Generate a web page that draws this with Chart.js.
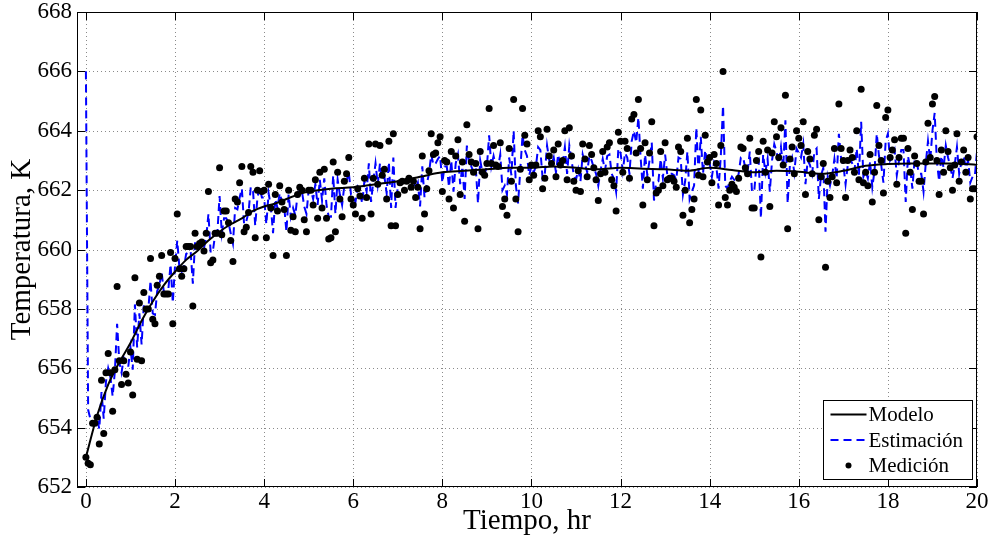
<!DOCTYPE html>
<html>
<head>
<meta charset="utf-8">
<script src="https://cdn.jsdelivr.net/npm/chart.js@4.4.1/dist/chart.umd.min.js"></script>
<style>
  body { margin: 0; background: #fff; }
  #wrap { width: 990px; height: 539px; }
</style>
</head>
<body>
<div id="wrap"><canvas id="chart"></canvas></div>
<script>
// muestreo cada 0.05 hr, de 0 a 20 hr
const dt = 0.05;

const medicion = [
  653.0, 652.8, 652.75, 654.15, 654.15, 654.35, 653.45, 655.6, 653.8, 655.85, 656.5, 655.85, 654.55, 655.95, 658.75, 656.25, 655.45, 656.25, 655.8, 655.5,
  656.55, 655.1, 659.05, 656.3, 658.2, 656.25, 658.55, 658.0, 658.0, 659.7, 657.65, 657.5, 658.8, 659.1, 659.8, 658.5, 658.5, 658.5, 659.9, 657.5,
  659.7, 661.2, 659.35, 659.1, 659.35, 660.1, 660.1, 660.1, 658.1, 660.55, 660.1, 660.2, 660.25, 659.95, 660.55, 661.95, 659.55, 659.65, 660.55, 660.55,
  662.75, 660.5, 661.3, 661.3, 660.9, 660.3, 659.6, 661.7, 661.6, 662.25, 662.8, 660.6, 660.75, 661.25, 662.8, 662.6, 660.4, 662.0, 662.65, 661.95,
  662.0, 660.4, 662.2, 661.4, 659.8, 661.85, 661.3, 662.15, 661.6, 661.35, 659.8, 662.0, 660.65, 661.1, 660.6, 661.85, 662.1, 662.0, 661.0, 660.6,
  662.0, 662.0, 661.5, 662.35, 661.05, 662.6, 661.4, 662.7, 661.05, 660.35, 660.4, 662.95, 660.6, 662.6, 661.7, 661.1, 662.3, 662.55, 663.1, 661.7,
  661.5, 661.2, 662.05, 661.8, 661.05, 662.4, 661.75, 663.55, 661.2, 662.4, 663.55, 662.2, 663.5, 662.5, 662.7, 661.7, 663.65, 660.8, 663.9, 660.8,
  661.85, 662.25, 662.3, 662.0, 662.3, 662.4, 662.1, 662.3, 661.75, 662.1, 660.7, 663.15, 661.2, 662.05, 662.65, 663.9, 663.2, 663.25, 663.6, 663.8,
  661.95, 663.0, 662.95, 661.7, 663.3, 661.4, 663.15, 663.7, 661.85, 662.95, 660.95, 664.2, 663.2, 662.95, 662.6, 662.9, 660.7, 663.3, 662.6, 662.5,
  662.9, 664.75, 662.9, 663.5, 662.85, 662.8, 663.6, 661.45, 661.7, 661.15, 663.4, 662.3, 665.05, 661.7, 660.6, 662.7, 664.75, 663.85, 663.55, 662.35,
  662.85, 662.5, 662.85, 664.0, 663.8, 662.05, 662.4, 664.05, 663.15, 662.9, 663.35, 662.45, 663.55, 662.85, 663.0, 664.0, 662.35, 664.1, 663.15, 662.3,
  662.0, 662.65, 661.95, 663.55, 663.05, 662.45, 663.5, 663.2, 662.75, 662.35, 661.65, 662.55, 663.3, 662.6, 663.45, 663.6, 662.35, 662.15, 661.3, 663.95,
  663.65, 662.6, 663.65, 663.4, 662.4, 664.4, 664.55, 663.25, 665.05, 663.4, 661.5, 663.6, 662.35, 663.25, 664.3, 660.8, 661.9, 662.0, 663.3, 662.15,
  663.6, 662.35, 662.4, 662.4, 662.3, 662.1, 663.45, 663.3, 661.15, 662.0, 663.75, 660.9, 661.35, 661.7, 665.05, 662.5, 664.7, 662.45, 663.85, 662.95,
  663.1, 662.25, 663.2, 662.9, 661.5, 663.5, 666.0, 661.75, 661.5, 662.0, 662.2, 662.1, 661.95, 662.4, 663.45, 663.4, 662.75, 662.55, 663.75, 661.4,
  661.4, 663.0, 663.3, 659.75, 663.65, 662.6, 663.35, 661.45, 663.25, 664.3, 663.8, 663.1, 664.1, 662.85, 665.2, 660.7, 663.05, 663.45, 662.55, 664.0,
  663.75, 663.5, 664.3, 661.85, 663.3, 663.05, 662.55, 663.85, 664.05, 661.0, 662.45, 662.9, 659.4, 662.3, 661.75, 662.45, 663.4, 662.25, 664.9, 663.4,
  663.0, 661.75, 663.0, 663.35, 663.1, 662.6, 664.0, 662.35, 665.4, 662.25, 662.6, 662.15, 663.2, 661.6, 662.6, 664.85, 663.5, 663.0, 661.9, 664.45,
  664.7, 663.1, 663.35, 663.7, 662.2, 663.1, 663.75, 663.75, 660.55, 663.4, 662.6, 661.35, 663.15, 662.9, 662.3, 662.3, 661.2, 662.95, 664.25, 663.1,
  664.9, 665.15, 663.0, 661.85, 663.35, 662.6, 664.0, 663.3, 662.75, 662.0, 662.85, 663.9, 662.3, 662.95, 663.35, 662.6, 663.1, 661.7, 662.05, 662.05,
  663.8
];

const estimacion = [
  666.0, 654.6, 654.3, 654.2, 654.15, 654.35, 653.95, 655.2, 654.3, 655.55, 656.0, 655.7, 655.05, 655.9, 657.5, 656.2, 655.85, 656.35, 656.15, 656.05,
  656.7, 655.95, 658.15, 656.7, 657.85, 656.8, 658.15, 657.9, 657.95, 658.95, 657.85, 657.8, 658.6, 658.8, 659.25, 658.55, 658.6, 658.65, 659.5, 658.2,
  659.45, 660.3, 659.35, 659.25, 659.4, 659.85, 659.9, 659.95, 658.85, 660.25, 660.05, 660.15, 660.2, 660.05, 660.4, 661.2, 659.9, 659.95, 660.5, 660.55,
  661.8, 660.55, 661.05, 661.05, 660.9, 660.55, 660.2, 661.4, 661.35, 661.75, 662.05, 660.85, 660.95, 661.25, 662.1, 662.0, 660.8, 661.75, 662.1, 661.75,
  661.75, 660.85, 661.9, 661.45, 660.55, 661.7, 661.4, 661.9, 661.6, 661.45, 660.6, 661.85, 661.1, 661.4, 661.15, 661.85, 662.0, 661.95, 661.45, 661.2,
  662.0, 662.0, 661.7, 662.2, 661.5, 662.35, 661.65, 662.4, 661.5, 661.1, 661.1, 662.5, 661.2, 662.35, 661.85, 661.5, 662.15, 662.3, 662.6, 661.85,
  661.8, 661.6, 662.1, 661.95, 661.55, 662.3, 661.95, 662.9, 661.6, 662.3, 662.9, 662.2, 662.9, 662.35, 662.45, 661.9, 662.95, 661.4, 663.1, 661.4,
  662.1, 662.3, 662.35, 662.2, 662.35, 662.4, 662.25, 662.35, 662.05, 662.25, 661.45, 662.8, 661.75, 662.2, 662.55, 663.2, 662.85, 662.9, 663.05, 663.15,
  662.25, 662.8, 662.8, 662.1, 663.0, 661.95, 662.9, 663.2, 662.2, 662.8, 661.7, 663.5, 662.95, 662.8, 662.6, 662.75, 661.55, 663.0, 662.6, 662.55,
  662.8, 663.85, 662.8, 663.15, 662.8, 662.75, 663.2, 662.0, 662.15, 661.85, 663.1, 662.5, 664.0, 662.15, 661.55, 662.7, 663.85, 663.35, 663.15, 662.5,
  662.8, 662.6, 662.8, 663.45, 663.35, 662.4, 662.55, 663.5, 663.0, 662.85, 663.1, 662.6, 663.2, 662.8, 662.9, 663.45, 662.55, 663.5, 663.0, 662.5,
  662.35, 662.7, 662.3, 663.2, 662.9, 662.6, 663.15, 663.0, 662.75, 662.55, 662.15, 662.65, 663.05, 662.65, 663.15, 663.2, 662.55, 662.4, 661.95, 663.4,
  663.25, 662.65, 663.25, 663.1, 662.55, 663.65, 664.0, 663.6, 664.45, 663.1, 662.05, 663.2, 662.5, 663.0, 663.6, 661.65, 662.25, 662.3, 663.05, 662.4,
  663.2, 662.5, 662.55, 662.55, 662.5, 662.35, 663.1, 663.05, 661.85, 662.3, 663.3, 661.7, 661.95, 662.15, 664.1, 662.6, 663.8, 662.55, 663.35, 662.85,
  662.9, 662.45, 662.95, 662.8, 662.05, 663.15, 664.85, 662.15, 662.05, 662.3, 662.45, 662.35, 662.3, 662.55, 663.1, 663.1, 662.75, 662.6, 663.3, 661.95,
  661.95, 662.85, 663.0, 661.05, 663.2, 662.6, 663.05, 661.95, 663.0, 663.55, 663.3, 662.9, 663.45, 662.75, 664.35, 661.55, 662.85, 663.1, 662.6, 663.4,
  663.25, 663.1, 663.55, 662.2, 663.0, 662.85, 662.55, 663.3, 663.4, 661.7, 662.5, 662.75, 660.6, 662.45, 662.15, 662.5, 663.05, 662.4, 663.9, 663.05,
  662.85, 662.2, 662.85, 663.05, 662.9, 662.65, 663.4, 662.5, 664.3, 662.45, 662.65, 662.4, 662.95, 662.1, 662.65, 663.9, 663.15, 662.85, 662.25, 663.65,
  663.9, 663.0, 663.15, 663.35, 662.5, 663.0, 663.35, 663.35, 661.6, 663.15, 662.75, 662.05, 663.05, 662.9, 662.55, 662.55, 661.95, 662.9, 663.65, 663.0,
  664.0, 664.6, 662.95, 662.3, 663.15, 662.75, 663.5, 663.1, 662.8, 662.4, 662.85, 663.45, 662.55, 662.95, 663.15, 662.75, 663.0, 662.25, 662.45, 662.45,
  663.3
];

const modeloT = [0, 0.25, 0.5, 0.75, 1, 1.25, 1.5, 1.75, 2, 2.25, 2.5, 2.75, 3, 3.25, 3.5, 3.75, 4, 4.25, 4.5, 4.75, 5,
  5.5, 6, 6.5, 7, 7.5, 8, 8.5, 9, 9.5, 10, 10.5, 11, 11.5, 12, 12.5, 13, 13.5, 14, 14.5, 15, 15.5, 16, 16.5, 17, 17.5, 18, 18.5, 19, 19.5, 20];
const modeloY = [653.0, 654.4, 655.45, 656.2, 656.85, 657.6, 658.25, 658.8, 659.25, 659.65, 659.95, 660.3, 660.6, 660.85, 661.05, 661.3, 661.45, 661.55, 661.7, 661.85, 661.95,
  662.05, 662.1, 662.2, 662.3, 662.45, 662.6, 662.65, 662.7, 662.75, 662.75, 662.8, 662.75, 662.7, 662.75, 662.72, 662.7, 662.65, 662.75, 662.68, 662.6, 662.65, 662.62, 662.55, 662.65, 662.82, 662.88, 662.9, 662.9, 662.9, 662.85];

const xTicks = [0, 2, 4, 6, 8, 10, 12, 14, 16, 18, 20];
const yTicks = [652, 654, 656, 658, 660, 662, 664, 666, 668];

const serif = "'Liberation Serif', 'Times New Roman', serif";

// rejilla punteada, marco y marcas hacia dentro (estilo matlab)
const marco = {
  id: 'marco',
  beforeDatasetsDraw(chart) {
    const { ctx, chartArea: a, scales: { x, y } } = chart;
    ctx.save();
    ctx.strokeStyle = '#8a8a8a';
    ctx.lineWidth = 1;
    ctx.setLineDash([1, 3]);
    xTicks.forEach(v => {
      const px = Math.round(x.getPixelForValue(v)) + 0.5;
      ctx.beginPath(); ctx.moveTo(px, a.top); ctx.lineTo(px, a.bottom); ctx.stroke();
    });
    yTicks.forEach(v => {
      const py = Math.round(y.getPixelForValue(v)) + 0.5;
      ctx.beginPath(); ctx.moveTo(a.left, py); ctx.lineTo(a.right, py); ctx.stroke();
    });
    ctx.restore();
  },
  afterDatasetsDraw(chart) {
    const { ctx, chartArea: a, scales: { x, y } } = chart;
    ctx.save();
    ctx.strokeStyle = '#000';
    ctx.lineWidth = 1;
    ctx.strokeRect(a.left + 0.5, a.top + 0.5, a.width - 1, a.height - 1);
    const len = 8;
    ctx.beginPath();
    xTicks.forEach(v => {
      const px = Math.round(x.getPixelForValue(v)) + 0.5;
      ctx.moveTo(px, a.bottom); ctx.lineTo(px, a.bottom - len);
      ctx.moveTo(px, a.top); ctx.lineTo(px, a.top + len);
    });
    yTicks.forEach(v => {
      const py = Math.round(y.getPixelForValue(v)) + 0.5;
      ctx.moveTo(a.left, py); ctx.lineTo(a.left + len, py);
      ctx.moveTo(a.right, py); ctx.lineTo(a.right - len, py);
    });
    ctx.stroke();

    // leyenda abajo a la derecha
    const w = 149, h = 79;
    const bx = Math.round(a.right - 5 - w) + 0.5, by = Math.round(a.bottom - 8 - h) + 0.5;
    ctx.fillStyle = '#fff';
    ctx.fillRect(bx, by, w, h);
    ctx.strokeRect(bx, by, w, h);
    const ds = chart.data.datasets;
    ctx.font = '21px ' + serif;
    ctx.textBaseline = 'middle';
    ctx.textAlign = 'left';
    ds.forEach((d, i) => {
      const cy = by + 14 + i * 25.5;
      const x0 = bx + 7, x1 = bx + 43;
      if (d.type === 'line') {
        ctx.save();
        ctx.strokeStyle = d.borderColor;
        ctx.lineWidth = d.borderWidth;
        ctx.setLineDash(d.borderDash || []);
        ctx.beginPath(); ctx.moveTo(x0, cy); ctx.lineTo(x1, cy); ctx.stroke();
        ctx.restore();
      } else {
        ctx.fillStyle = '#000';
        ctx.beginPath(); ctx.arc((x0 + x1) / 2, cy, 3, 0, Math.PI * 2); ctx.fill();
      }
      ctx.fillStyle = '#000';
      ctx.fillText(d.label, x1 + 2, cy + 1);
    });
    ctx.restore();
  }
};

const ctx = document.getElementById('chart').getContext('2d');
const myChart = new Chart(ctx, {
  data: {
    datasets: [{
      type: 'line',
      label: 'Modelo',
      data: modeloT.map((t, i) => ({ x: t, y: modeloY[i] })),
      borderColor: '#000',
      borderWidth: 2,
      pointRadius: 0,
      cubicInterpolationMode: 'monotone',
      order: 0
    }, {
      type: 'line',
      label: 'Estimación',
      data: estimacion.map((v, i) => ({ x: i * dt, y: v })),
      borderColor: '#0000ff',
      borderWidth: 2,
      borderDash: [8, 5],
      pointRadius: 0,
      tension: 0,
      order: 2
    }, {
      type: 'scatter',
      label: 'Medición',
      data: medicion.map((v, i) => ({ x: i * dt, y: v })),
      backgroundColor: '#000',
      borderColor: '#000',
      pointRadius: 3.5,
      borderWidth: 0,
      order: 1
    }]
  },
  options: {
    responsive: true,
    maintainAspectRatio: false,
    animation: false,
    layout: { padding: { top: 12, right: 13, left: 0, bottom: 0 } },
    plugins: { legend: { display: false }, tooltip: { enabled: false } },
    scales: {
      x: {
        type: 'linear',
        min: -0.2,
        max: 20,
        grid: { display: false, drawTicks: false, tickLength: 0 },
        border: { display: false },
        afterBuildTicks: s => { s.ticks = xTicks.map(v => ({ value: v })); },
        afterFit: s => { s.height = 52; s.paddingLeft = 0; s.paddingRight = 0; },
        ticks: { color: '#000', padding: 1, maxRotation: 0, font: { family: serif, size: 23 } },
        title: { display: true, text: 'Tiempo, hr', color: '#000', padding: { top: 0, bottom: 0 }, font: { family: serif, size: 29 } }
      },
      y: {
        type: 'linear',
        min: 652,
        max: 668,
        grid: { display: false, drawTicks: false, tickLength: 0 },
        border: { display: false },
        afterBuildTicks: s => { s.ticks = yTicks.map(v => ({ value: v })); },
        afterFit: s => { s.width = 77; s.paddingTop = 0; s.paddingBottom = 0; },
        ticks: { color: '#000', padding: 5, font: { family: serif, size: 23 } },
        title: { display: true, text: 'Temperatura, K', color: '#000', padding: { top: 5, bottom: 0 }, font: { family: serif, size: 29 } }
      }
    }
  },
  plugins: [marco]
});
</script>
</body>
</html>
